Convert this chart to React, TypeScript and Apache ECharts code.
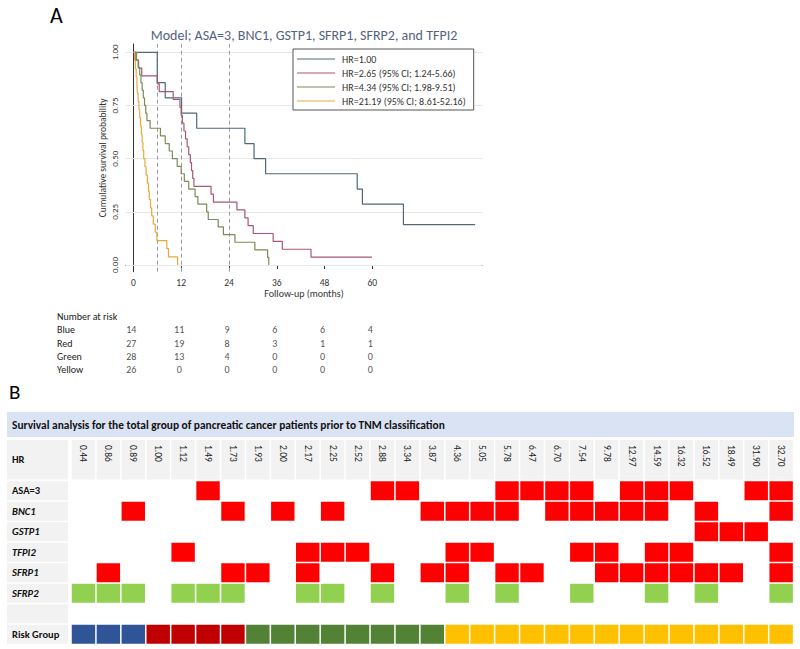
import React, { useEffect, useRef } from 'react';
import * as echarts from 'echarts';

const FONT = 'Carlito, Lato, "Liberation Sans", sans-serif';

// ---------- Panel A: Kaplan-Meier curves ----------
const legendNames = [
  'HR=1.00',
  'HR=2.65 (95% CI; 1.24-5.66)',
  'HR=4.34 (95% CI; 1.98-9.51)',
  'HR=21.19 (95% CI; 8.61-52.16)',
];

const blueTimes = [0, 6, 8, 12.1, 15.9, 28, 30.3, 33.2, 56.2, 57.5, 67.8, 85.8];
const blueSurv = [1, 0.857, 0.786, 0.714, 0.643, 0.571, 0.5, 0.429, 0.357, 0.286, 0.19, 0.19];

const redTimes = [0, 0.6, 1.3, 2.1, 6, 6.5, 10, 11.7, 12.0, 12.3, 12.7, 13.1, 13.5, 13.9, 14.3, 14.6, 14.9, 15.2, 19.5, 20.1, 26, 28, 28.8, 30.1, 35.1, 37.4, 44.6, 59.9];
const redSurv = [1, 0.963, 0.926, 0.889, 0.852, 0.815, 0.778, 0.741, 0.704, 0.667, 0.63, 0.593, 0.556, 0.519, 0.481, 0.444, 0.407, 0.37, 0.333, 0.296, 0.259, 0.222, 0.185, 0.148, 0.111, 0.074, 0.037, 0.037];

const greenTimes = [0, 0.8, 1.2, 1.6, 1.9, 2.2, 2.5, 2.8, 3.1, 3.4, 4.2, 6.8, 8.0, 9.0, 9.8, 11.0, 12.0, 12.8, 13.9, 15.5, 16.2, 18.4, 18.8, 21.3, 22.6, 25.5, 30.5, 33.7, 34.0];
const greenSurv = [1, 0.964, 0.929, 0.893, 0.857, 0.821, 0.786, 0.75, 0.714, 0.679, 0.643, 0.607, 0.571, 0.536, 0.5, 0.464, 0.429, 0.393, 0.357, 0.321, 0.286, 0.25, 0.214, 0.179, 0.143, 0.107, 0.071, 0.036, 0];

const yellowTimes = [0, 0.3, 0.5, 0.7, 0.9, 1.0, 1.2, 1.4, 1.6, 1.8, 2.0, 2.2, 2.4, 2.6, 2.9, 3.2, 3.5, 3.8, 4.0, 4.3, 4.6, 5.0, 5.5, 5.9, 8.4, 8.8, 11.1];
const yellowSurv = [1, 0.962, 0.923, 0.885, 0.846, 0.808, 0.769, 0.731, 0.692, 0.654, 0.615, 0.577, 0.538, 0.5, 0.462, 0.423, 0.385, 0.346, 0.308, 0.269, 0.231, 0.192, 0.154, 0.115, 0.077, 0.038, 0];

const xTicks = [0, 12, 24, 36, 48, 60];
const yTicks = [0, 0.25, 0.5, 0.75, 1];
const refLines = [6, 12, 24];

// Number at risk
const riskRows = ['Blue', 'Red', 'Green', 'Yellow'];
const riskTimes = [0, 12, 24, 36, 48, 60];
const riskBlue = [14, 11, 9, 6, 6, 4];
const riskRed = [27, 19, 8, 3, 1, 1];
const riskGreen = [28, 13, 4, 0, 0, 0];
const riskYellow = [26, 0, 0, 0, 0, 0];

// ---------- Panel B: marker table ----------
const hrLabels = ['0.44', '0.86', '0.89', '1.00', '1.12', '1.49', '1.73', '1.93', '2.00', '2.17', '2.25', '2.52', '2.88', '3.34', '3.87', '4.36', '5.05', '5.78', '6.47', '6.70', '7.54', '9.78', '12.97', '14.59', '16.32', '16.52', '18.49', '31.90', '32.70'];
const rowNames = ['ASA=3', 'BNC1', 'GSTP1', 'TFPI2', 'SFRP1', 'SFRP2', ' ', 'Risk Group'];
const italicRows = ['BNC1', 'GSTP1', 'TFPI2', 'SFRP1', 'SFRP2'];
const asa3 = [0, 0, 0, 0, 0, 1, 0, 0, 0, 0, 0, 0, 1, 1, 0, 0, 0, 1, 1, 1, 1, 0, 1, 1, 1, 0, 0, 1, 1];
const bnc1 = [0, 0, 1, 0, 0, 0, 1, 0, 1, 0, 1, 0, 0, 0, 1, 1, 1, 1, 0, 1, 1, 1, 1, 1, 0, 1, 0, 0, 1];
const gstp1 = [0, 0, 0, 0, 0, 0, 0, 0, 0, 0, 0, 0, 0, 0, 0, 0, 0, 0, 0, 0, 0, 0, 0, 0, 0, 1, 1, 1, 0];
const tfpi2 = [0, 0, 0, 0, 1, 0, 0, 0, 0, 1, 1, 1, 0, 0, 0, 1, 1, 0, 0, 0, 1, 1, 0, 1, 1, 0, 0, 0, 1];
const sfrp1 = [0, 1, 0, 0, 0, 0, 1, 1, 0, 1, 0, 0, 1, 0, 1, 1, 0, 1, 1, 0, 0, 1, 1, 1, 1, 1, 1, 0, 1];
const sfrp2 = [1, 1, 1, 0, 1, 1, 1, 0, 0, 1, 1, 0, 1, 0, 0, 1, 0, 1, 0, 0, 1, 0, 0, 1, 0, 1, 0, 0, 1];
const riskGroup = ['Blue', 'Blue', 'Blue', 'Red', 'Red', 'Red', 'Red', 'Green', 'Green', 'Green', 'Green', 'Green', 'Green', 'Green', 'Green', 'Yellow', 'Yellow', 'Yellow', 'Yellow', 'Yellow', 'Yellow', 'Yellow', 'Yellow', 'Yellow', 'Yellow', 'Yellow', 'Yellow', 'Yellow', 'Yellow'];

const groupColors: Record<string, string> = { Blue: '#2f5597', Red: '#c00000', Green: '#538135', Yellow: '#ffc000' };
const curveColors = ['#4f687a', '#a8576f', '#7b8b57', '#e9a93a'];

function zip(t: number[], s: number[]) {
  return t.map((v, i) => [v, s[i]]);
}

function buildOption() {
  const curves = [
    zip(blueTimes, blueSurv),
    zip(redTimes, redSurv),
    zip(greenTimes, greenSurv),
    zip(yellowTimes, yellowSurv),
  ];
  const kmSeries: any[] = curves.map((d, i) => ({
    name: legendNames[i],
    type: 'line',
    xAxisIndex: 0,
    yAxisIndex: 0,
    step: 'end',
    symbol: 'none',
    data: d,
    z: 3,
    lineStyle: { color: curveColors[i], width: 1.2 },
    itemStyle: { color: curveColors[i] },
  }));
  kmSeries[0].markLine = {
    silent: true,
    z: 1,
    symbol: ['none', 'none'],
    label: { show: false },
    lineStyle: { color: '#e4e8eb', type: 'solid', width: 1 },
    data: yTicks.map((v) => ({ yAxis: v })),
  };
  kmSeries[1].markLine = {
    silent: true,
    z: 2,
    symbol: ['none', 'none'],
    label: { show: false },
    lineStyle: { color: '#9a9a9a', type: [4, 3], width: 1 },
    data: refLines.map((v) => ({ xAxis: v })),
  };

  const riskCounts = [riskBlue, riskRed, riskGreen, riskYellow];
  const riskData: any[] = [];
  riskRows.forEach((r, ri) => {
    riskTimes.forEach((t, ti) => riskData.push([t, r, riskCounts[ri][ti]]));
  });

  const markerRows = [asa3, bnc1, gstp1, tfpi2, sfrp1, sfrp2];
  const cellData: any[] = [];
  markerRows.forEach((row, ri) => {
    row.forEach((v, ci) => {
      if (v) cellData.push({ value: [ci, ri], itemStyle: { color: ri === 5 ? '#92d050' : '#ff0000' } });
    });
  });
  riskGroup.forEach((g, ci) => {
    cellData.push({ value: [ci, 7], itemStyle: { color: groupColors[g] } });
  });

  const xMin = -1.85;
  const xMax = 87.53;

  return {
    animation: false,
    backgroundColor: '#ffffff',
    textStyle: { fontFamily: FONT },
    legend: {
      data: legendNames,
      orient: 'vertical',
      left: 293,
      top: 49,
      icon: 'path://M0,0H38V1.2H0Z',
      itemWidth: 38,
      itemHeight: 10,
      itemGap: 4,
      padding: [5, 8, 4, 4],
      borderColor: '#555',
      borderWidth: 1,
      backgroundColor: '#fff',
      selectedMode: false,
      textStyle: { fontSize: 10, color: '#333', fontFamily: FONT, padding: [0, 0, 0, 2] },
    },
    grid: [
      { left: 126, top: 44, width: 356, height: 227.7 },
      { left: 126, top: 323.3, width: 356, height: 53.3 },
      { left: 71, top: 440, width: 722.6, height: 39.5 },
      { left: 71, top: 480.5, width: 722.6, height: 164 },
    ],
    xAxis: [
      {
        type: 'value',
        gridIndex: 0,
        min: xMin,
        max: xMax,
        axisLine: { show: true, lineStyle: { color: '#333', width: 1 } },
        axisTick: { show: true, length: 4, customValues: xTicks, lineStyle: { color: '#333' } },
        axisLabel: { customValues: xTicks, fontSize: 9.5, color: '#333', margin: 6, fontFamily: FONT },
        splitLine: { show: false },
        name: 'Follow-up (months)',
        nameLocation: 'middle',
        nameGap: 15,
        nameTextStyle: { fontSize: 10, color: '#333', fontFamily: FONT },
      },
      { type: 'value', gridIndex: 1, min: xMin, max: xMax, show: false },
      { type: 'category', gridIndex: 2, data: hrLabels, show: false },
      { type: 'category', gridIndex: 3, data: hrLabels, show: false },
    ],
    yAxis: [
      {
        type: 'value',
        gridIndex: 0,
        min: -0.0315,
        max: 1.039,
        axisLine: { show: true, lineStyle: { color: '#333', width: 1 } },
        axisTick: { show: true, length: 4, customValues: yTicks, lineStyle: { color: '#333' } },
        axisLabel: {
          customValues: yTicks,
          rotate: 90,
          fontSize: 9,
          color: '#333',
          margin: 7,
          fontFamily: FONT,
          formatter: (v: number) => v.toFixed(2),
        },
        splitLine: { show: false },
        name: 'Cumulative survival probability',
        nameLocation: 'middle',
        nameGap: 18,
        nameTextStyle: { fontSize: 9.5, color: '#333', fontFamily: FONT },
      },
      {
        type: 'category',
        gridIndex: 1,
        data: riskRows,
        inverse: true,
        axisLine: { show: false },
        axisTick: { show: false },
        axisLabel: { align: 'left', margin: 69, fontSize: 10, color: '#222', fontFamily: FONT },
      },
      {
        type: 'category',
        gridIndex: 2,
        data: ['HR'],
        axisLine: { show: false },
        axisTick: { show: false },
        axisLabel: {
          align: 'left',
          margin: 64,
          width: 56,
          height: 27.5,
          lineHeight: 27.5,
          padding: [12, 0, 0, 5],
          backgroundColor: '#f2f2f2',
          fontWeight: 'bold',
          fontSize: 10.5,
          color: '#111',
          fontFamily: FONT,
        },
      },
      {
        type: 'category',
        gridIndex: 3,
        data: rowNames,
        inverse: true,
        axisLine: { show: false },
        axisTick: { show: false },
        axisLabel: {
          align: 'left',
          margin: 64,
          width: 56,
          height: 19,
          lineHeight: 19,
          padding: [0, 0, 0, 5],
          backgroundColor: '#f2f2f2',
          fontWeight: 'bold',
          fontSize: 10.5,
          color: '#111',
          fontFamily: FONT,
          fontStyle: 'normal',
          formatter: (v: string) => (italicRows.indexOf(v) >= 0 ? `{i|${v}}` : `{b|${v}}`),
          rich: {
            i: { fontStyle: 'italic', fontWeight: 'bold', fontSize: 10.5, color: '#111', fontFamily: FONT },
            b: { fontWeight: 'bold', fontSize: 10.5, color: '#111', fontFamily: FONT },
          },
        },
      },
    ],
    graphic: [
      { type: 'text', left: 50, top: 4, style: { text: 'A', fontSize: 22, fill: '#000', fontFamily: FONT } },
      {
        type: 'text',
        x: 304,
        y: 35,
        style: { text: 'Model; ASA=3, BNC1, GSTP1, SFRP1, SFRP2, and TFPI2', fontSize: 14, fill: '#55627f', align: 'center', verticalAlign: 'middle', fontFamily: FONT },
      },
      { type: 'text', x: 57, y: 316, style: { text: 'Number at risk', fontSize: 10, fill: '#222', verticalAlign: 'middle', fontFamily: FONT } },
      { type: 'text', left: 9, top: 381, style: { text: 'B', fontSize: 21, fill: '#000', fontFamily: FONT } },
      { type: 'rect', shape: { x: 7, y: 412, width: 787, height: 25 }, style: { fill: '#dae3f3' } },
      {
        type: 'text',
        x: 12,
        y: 425,
        style: {
          text: 'Survival analysis for the total group of pancreatic cancer patients prior to TNM classification',
          fontSize: 11.4,
          fontWeight: 'bold',
          fill: '#111',
          verticalAlign: 'middle',
          fontFamily: FONT,
        },
      },
    ],
    series: [
      ...kmSeries,
      {
        type: 'scatter',
        xAxisIndex: 1,
        yAxisIndex: 1,
        symbolSize: 1,
        itemStyle: { color: 'transparent' },
        data: riskData,
        label: {
          show: true,
          position: 'inside',
          offset: [-2, 0],
          formatter: (p: any) => String(p.value[2]),
          fontSize: 10,
          color: '#222',
          fontFamily: FONT,
        },
      },
      {
        type: 'custom',
        xAxisIndex: 2,
        yAxisIndex: 2,
        data: hrLabels.map((_, i) => [i, 0]),
        renderItem: (params: any, api: any) => {
          const p = api.coord([api.value(0), api.value(1)]);
          const s = api.size([1, 1]);
          return {
            type: 'group',
            children: [
              { type: 'rect', shape: { x: p[0] - s[0] / 2 + 0.75, y: p[1] - s[1] / 2, width: s[0] - 1.5, height: s[1] }, style: { fill: '#f2f2f2' } },
              {
                type: 'text',
                x: p[0],
                y: p[1] - s[1] / 2 + 5,
                rotation: -Math.PI / 2,
                style: { text: hrLabels[params.dataIndex], fontSize: 9.5, fill: '#222', align: 'left', verticalAlign: 'middle', fontFamily: FONT },
              },
            ],
          };
        },
      },
      {
        type: 'custom',
        xAxisIndex: 3,
        yAxisIndex: 3,
        data: cellData,
        renderItem: (params: any, api: any) => {
          const p = api.coord([api.value(0), api.value(1)]);
          const s = api.size([1, 1]);
          return {
            type: 'rect',
            shape: { x: p[0] - s[0] / 2 + 0.75, y: p[1] - s[1] / 2 + 0.75, width: s[0] - 1.5, height: s[1] - 1.5 },
            style: { fill: api.visual('color') },
          };
        },
      },
    ],
  };
}

export default function App() {
  const ref = useRef<HTMLDivElement>(null);
  useEffect(() => {
    if (!ref.current) return;
    const chart = echarts.init(ref.current, null, { renderer: 'svg' });
    chart.setOption(buildOption() as any);
    return () => chart.dispose();
  }, []);
  return (
    <div
      ref={ref}
      style={{ position: 'fixed', left: 0, top: 0, width: 800, height: 649, background: '#fff' }}
    />
  );
}
